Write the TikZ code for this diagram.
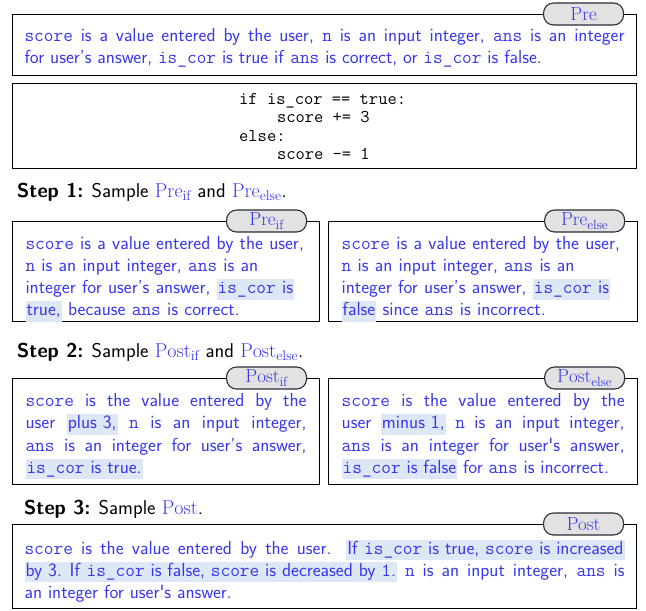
\documentclass[tikz,border=0pt]{standalone}
\usepackage{fontspec}
\usepackage{xcolor}
\usetikzlibrary{positioning}

\definecolor{txtblue}{RGB}{55,55,235}
\definecolor{hlblue}{RGB}{222,231,245}
\definecolor{taggray}{RGB}{226,226,226}
\definecolor{tagline}{RGB}{38,46,54}

\newcommand{\cd}[1]{\texttt{#1}}
\newcommand{\hlt}[1]{{\setlength{\fboxsep}{1pt}\colorbox{hlblue}{\vrule height 13.5pt depth 5pt width 0pt #1}}}

\begin{document}
\begin{tikzpicture}[
  x=1pt, y=-1pt,
  box/.style={draw, line width=1.1pt, anchor=north west, inner xsep=13pt, inner ysep=0pt,
    font=\sffamily\fontsize{18.8}{22.3}\selectfont, text=txtblue},
  widebox/.style={box, inner xsep=12pt, minimum width=624pt, text width=600pt},
  tag/.style={draw=tagline, fill=taggray, line width=1.1pt, rounded corners=10pt,
    minimum width=80pt, minimum height=22pt, inner sep=0pt, anchor=east,
    text=txtblue, font=\fontsize{19}{20}\selectfont},
  steplbl/.style={anchor=west, inner sep=0pt, font=\sffamily\fontsize{20}{24}\selectfont}
]
  \useasboundingbox (0,0) rectangle (646,611);

  % the task
  \node[widebox, minimum height=61pt, text height=19pt, text depth=26pt, align=justify] (pre) at (12,14)
    {\cd{score} is a value entered by the user, \cd{n} is an input integer, \cd{ans} is an integer\linebreak
     for user's answer, \cd{is\_cor} is true if \cd{ans} is correct, or \cd{is\_cor} is false.};
  \node[tag] (pretag) at ([xshift=-13pt]pre.north east) {Pre};

  \node[widebox, minimum height=85pt] (code) at (12,83) {};
  \node[anchor=north west, inner sep=0pt, align=left, font=\ttfamily\fontsize{18}{18.4}\selectfont]
    (codetxt) at ([xshift=227pt, yshift=-10pt]code.north west)
    {if is\_cor == true:\\\hspace*{2.1em}score += 3\\else:\\\hspace*{2.1em}score -= 1};

  % step 1
  \node[steplbl] (step1) at (17,192)
    {\textbf{Step 1:} Sample \textcolor{txtblue}{$\mathrm{Pre}_{\mathrm{if}}$} and \textcolor{txtblue}{$\mathrm{Pre}_{\mathrm{else}}$}.};

  \node[box, minimum width=307pt, text width=281pt, minimum height=100pt, text height=23pt, text depth=68pt,
    align=left] (preif) at (12,221)
    {\cd{score} is a value entered by the user,\\
     \cd{n} is an input integer, \cd{ans} is an\\
     integer for user's answer, \hlt{\cd{is\_cor} is}\\
     \hlt{true,} because \cd{ans} is correct.};
  \node[tag] (preiftag) at ([xshift=-13pt]preif.north east) {$\mathrm{Pre}_{\mathrm{if}}$};

  \node[box, minimum width=309pt, text width=283pt, minimum height=100pt, text height=23pt, text depth=68pt,
    align=left, right=8pt of preif.north east, anchor=north west] (preelse)
    {\cd{score} is a value entered by the user,\\
     \cd{n} is an input integer, \cd{ans} is an\\
     integer for user's answer, \hlt{\cd{is\_cor} is}\\
     \hlt{false} since \cd{ans} is incorrect.};
  \node[tag] (preelsetag) at ([xshift=-13pt]preelse.north east) {$\mathrm{Pre}_{\mathrm{else}}$};

  % step 2
  \node[steplbl] (step2) at (17,352)
    {\textbf{Step 2:} Sample \textcolor{txtblue}{$\mathrm{Post}_{\mathrm{if}}$} and \textcolor{txtblue}{$\mathrm{Post}_{\mathrm{else}}$}.};

  \node[box, minimum width=307pt, text width=281pt, minimum height=106pt, text height=18pt, text depth=68pt,
    align=justify] (postif) at (12,378)
    {\cd{score} is the value entered by the\linebreak
     user \hlt{plus 3,} \cd{n} is an input integer,\linebreak
     \cd{ans} is an integer for user's answer,\linebreak
     \hlt{\cd{is\_cor} is true.}};
  \node[tag] (postiftag) at ([xshift=-13pt]postif.north east) {$\mathrm{Post}_{\mathrm{if}}$};

  \node[box, minimum width=309pt, text width=283pt, minimum height=106pt, text height=18pt, text depth=68pt,
    align=justify, right=8pt of postif.north east, anchor=north west] (postelse)
    {\cd{score} is the value entered by the\linebreak
     user \hlt{minus 1,} \cd{n} is an input integer,\linebreak
     \cd{ans} is an integer for user\textquotesingle s answer,\linebreak
     \hlt{\cd{is\_cor} is false} for \cd{ans} is incorrect.};
  \node[tag] (postelsetag) at ([xshift=-13pt]postelse.north east) {$\mathrm{Post}_{\mathrm{else}}$};

  % step 3
  \node[steplbl] (step3) at (24,509)
    {\textbf{Step 3:} Sample \textcolor{txtblue}{$\mathrm{Post}$}.};

  \node[widebox, minimum height=84pt, text height=21pt, text depth=46pt, align=justify] (post) at (12,524)
    {\cd{score} is the value entered by the user. \hlt{If \cd{is\_cor} is true, \cd{score} is increased}\linebreak
     \hlt{by 3. If \cd{is\_cor} is false, \cd{score} is decreased by \cd{1}.} \cd{n} is an input integer, \cd{ans} is\linebreak
     an integer for user\textquotesingle s answer.};
  \node[tag] (posttag) at ([xshift=-13pt]post.north east) {Post};
\end{tikzpicture}
\end{document}
